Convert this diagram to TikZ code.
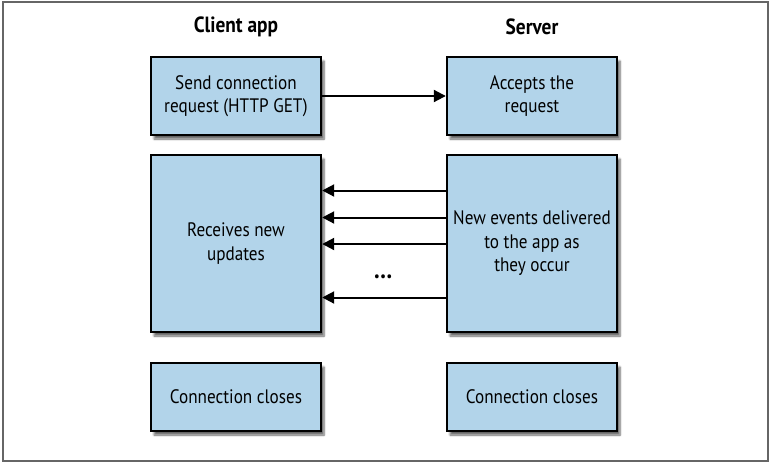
\documentclass[tikz,border=0pt]{standalone}
\usepackage{fontspec}
\setmainfont{PT Sans}[FakeStretch=0.88]
\usepackage{tikz}
\usetikzlibrary{shadows.blur,arrows.meta}

\definecolor{boxblue}{HTML}{B2D4EA}

\begin{document}
\begin{tikzpicture}[x=1pt, y=-1pt,
    stage/.style={draw=black, line width=2.4pt, fill=boxblue, align=center,
      minimum width=170pt, inner sep=0pt,
      font=\fontsize{19.5}{23.5}\selectfont,
      blur shadow={shadow xshift=3pt, shadow yshift=-4pt, shadow blur steps=6, shadow opacity=60}},
    head/.style={font=\fontsize{22}{24}\selectfont\bfseries},
    msg/.style={line width=2pt, -{Triangle[length=12pt, width=12pt]}}]
    \useasboundingbox (0,0) rectangle (773,463);
    \draw[gray!80!black, line width=1.4pt] (3,2) rectangle (768,461);

    % column titles
    \node[head] (chead) at (236,27) {Client app};
    \node[head] (shead) at (532,27) {Server};

    % client side
    \node[stage, minimum height=78pt] (creq) at (236,96) {Send connection\\request (HTTP GET)};
    \node[stage, minimum height=177pt] (cupd) at (236,243.5) {Receives new\\updates};
    \node[stage, minimum height=68pt] (cend) at (236,397) {Connection closes};

    % server side
    \node[stage, minimum height=78pt] (sacc) at (532,96) {Accepts the\\request};
    \node[stage, minimum height=177pt] (sevt) at (532,243.5) {New events delivered\\to the app as\\they occur};
    \node[stage, minimum height=68pt] (send) at (532,397) {Connection closes};

    % request and pushed events
    \draw[msg] (creq) -- (sacc);
    \draw[msg] ([yshift=53pt]sevt.west) -- ([yshift=53pt]cupd.east);
    \draw[msg] ([yshift=26pt]sevt.west) -- ([yshift=26pt]cupd.east);
    \draw[msg] ([yshift=-0.5pt]sevt.west) -- ([yshift=-0.5pt]cupd.east);
    \draw[msg] ([yshift=-54pt]sevt.west) -- ([yshift=-54pt]cupd.east);
    \node[font=\fontsize{26}{26}\selectfont\bfseries] (more) at (383,277) {\dots};
\end{tikzpicture}
\end{document}
